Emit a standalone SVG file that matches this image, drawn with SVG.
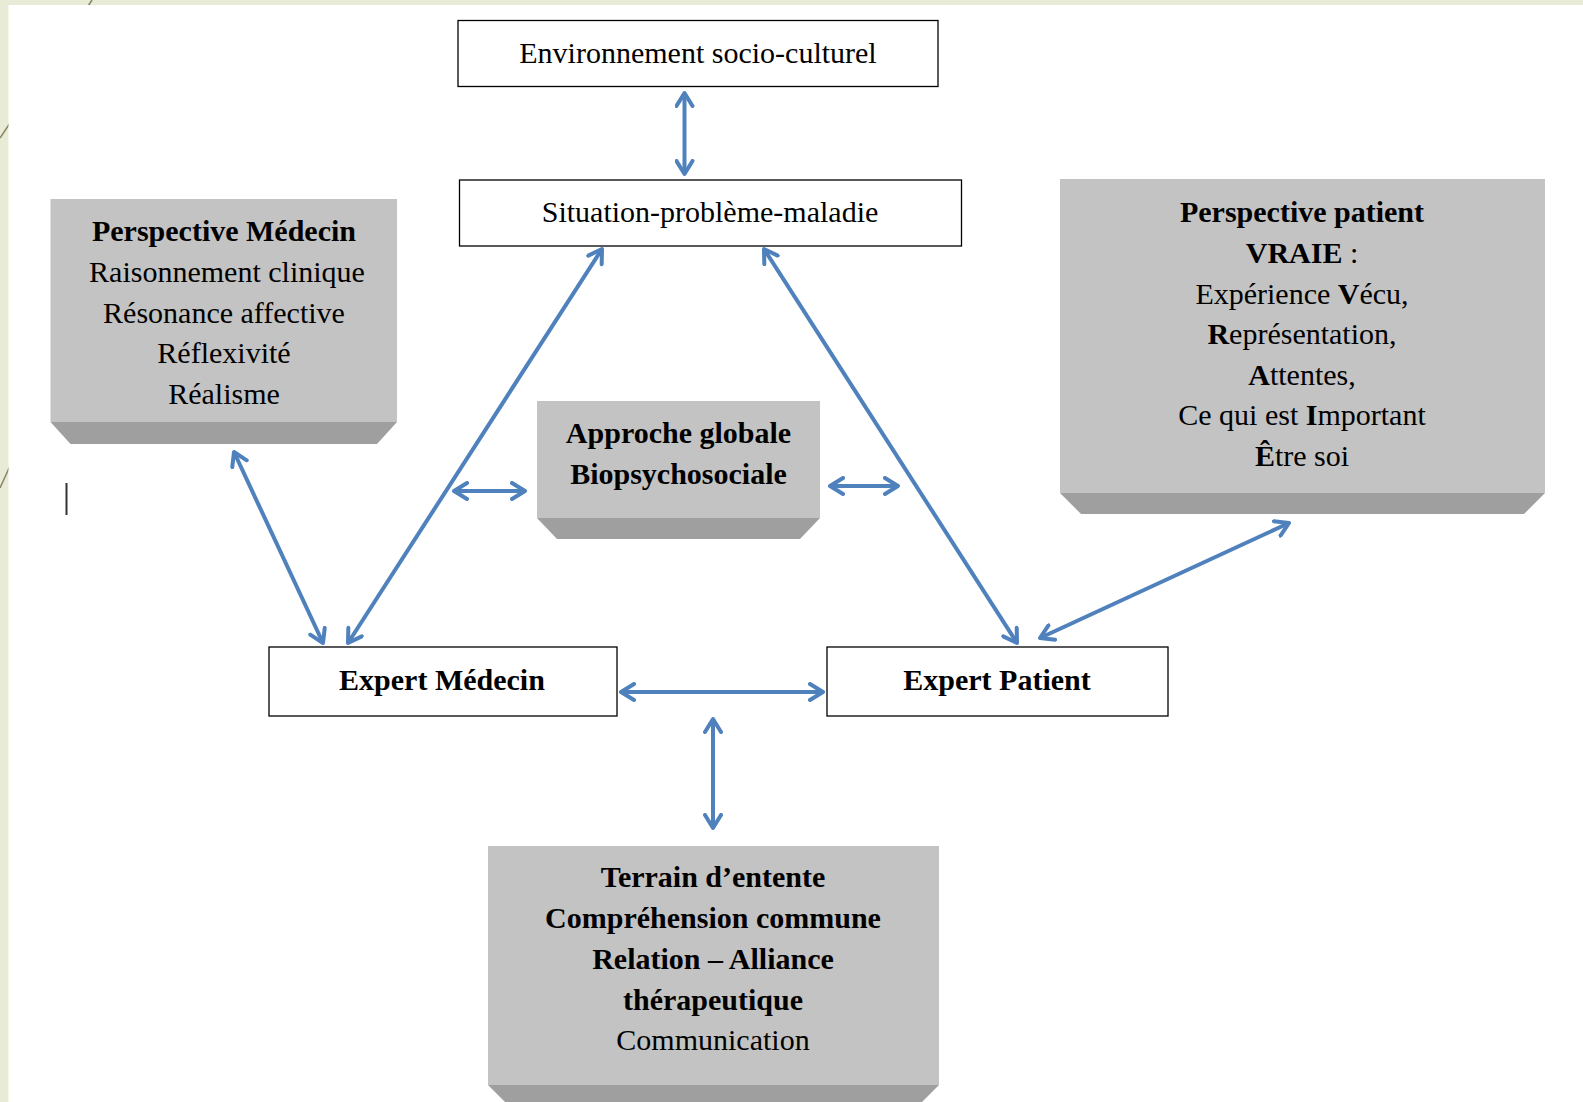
<svg xmlns="http://www.w3.org/2000/svg" width="1583" height="1102" viewBox="0 0 1583 1102">
<style>
.box{fill:#ffffff;stroke:#000000;stroke-width:1.3}
.face{fill:#c3c3c3}
.bevel{fill:#9f9f9f}
text{font-family:"Liberation Serif","Times New Roman",serif;font-size:30px;fill:#000000;text-anchor:middle}
.b{font-weight:bold}
.con line{stroke:#4f81bd;stroke-width:4;marker-start:url(#ah);marker-end:url(#ah)}
</style>
<defs>
<marker id="ah" markerUnits="userSpaceOnUse" markerWidth="20" markerHeight="20" viewBox="0 0 20 20" refX="15" refY="10" orient="auto-start-reverse">
<path d="M2,2 L15,10 L2,18" fill="none" stroke="#4f81bd" stroke-width="4" stroke-linejoin="round" stroke-linecap="round"/>
</marker>
</defs>
<rect x="0" y="0" width="1583" height="1102" fill="#e8ecd6"/>
<g id="deco" stroke="#8a8262" stroke-width="1.5">
<line x1="92" y1="0" x2="0" y2="138"/>
<line x1="10" y1="466" x2="0" y2="488"/>
</g>
<rect x="8.5" y="5" width="1575" height="1097" fill="#ffffff"/>
<line x1="66.5" y1="483" x2="66.5" y2="515" stroke="#333333" stroke-width="2"/>

<g id="environnement">
<rect class="box" x="458" y="20.5" width="480" height="66"/>
<text x="698" y="63">Environnement socio-culturel</text>
</g>
<g id="situation">
<rect class="box" x="459.5" y="180" width="502" height="66"/>
<text x="710" y="222">Situation-problème-maladie</text>
</g>
<g id="perspective-medecin">
<rect class="face" x="50.5" y="199" width="346.5" height="223"/>
<polygon class="bevel" points="50.5,422 397,422 377,444 70.5,444"/>
<text x="224" y="241" class="b">Perspective Médecin</text>
<text x="227" y="282">Raisonnement clinique</text>
<text x="224" y="323">Résonance affective</text>
<text x="224" y="363">Réflexivité</text>
<text x="224" y="404">Réalisme</text>
</g>
<g id="approche">
<rect class="face" x="537" y="401" width="283" height="117"/>
<polygon class="bevel" points="537,518 820,518 800,539 557,539"/>
<text x="678.5" y="443" class="b">Approche globale</text>
<text x="678.5" y="484" class="b">Biopsychosociale</text>
</g>
<g id="perspective-patient">
<rect class="face" x="1060" y="179" width="485" height="314"/>
<polygon class="bevel" points="1060,493 1545,493 1524,514 1081,514"/>
<text x="1302" y="222" class="b">Perspective patient</text>
<text x="1302" y="263"><tspan class="b">VRAIE</tspan> :</text>
<text x="1302" y="304">Expérience <tspan class="b">V</tspan>écu,</text>
<text x="1302" y="344"><tspan class="b">R</tspan>eprésentation,</text>
<text x="1302" y="385"><tspan class="b">A</tspan>ttentes,</text>
<text x="1302" y="425">Ce qui est <tspan class="b">I</tspan>mportant</text>
<text x="1302" y="466"><tspan class="b">Ê</tspan>tre soi</text>
</g>
<g id="expert-medecin">
<rect class="box" x="269" y="647" width="348" height="69"/>
<text x="442" y="690" class="b">Expert Médecin</text>
</g>
<g id="expert-patient">
<rect class="box" x="827" y="647" width="341" height="69"/>
<text x="997" y="690" class="b">Expert Patient</text>
</g>
<g id="terrain">
<rect class="face" x="488" y="846" width="451" height="239"/>
<polygon class="bevel" points="488,1085 939,1085 922,1102 505,1102"/>
<text x="713" y="887" class="b">Terrain d’entente</text>
<text x="713" y="928" class="b">Compréhension commune</text>
<text x="713" y="969" class="b">Relation – Alliance</text>
<text x="713" y="1010" class="b">thérapeutique</text>
<text x="713" y="1050">Communication</text>
</g>

<g id="connectors" class="con">
<line x1="684.5" y1="93" x2="684.5" y2="174"/>
<line x1="602" y1="249" x2="348" y2="643"/>
<line x1="764" y1="249" x2="1017" y2="643"/>
<line x1="234" y1="452" x2="323" y2="643"/>
<line x1="454" y1="491" x2="525" y2="491"/>
<line x1="830" y1="486" x2="898" y2="486"/>
<line x1="1289" y1="523" x2="1040" y2="638"/>
<line x1="621" y1="692" x2="823" y2="692"/>
<line x1="713" y1="719" x2="713" y2="828"/>
</g>
</svg>
